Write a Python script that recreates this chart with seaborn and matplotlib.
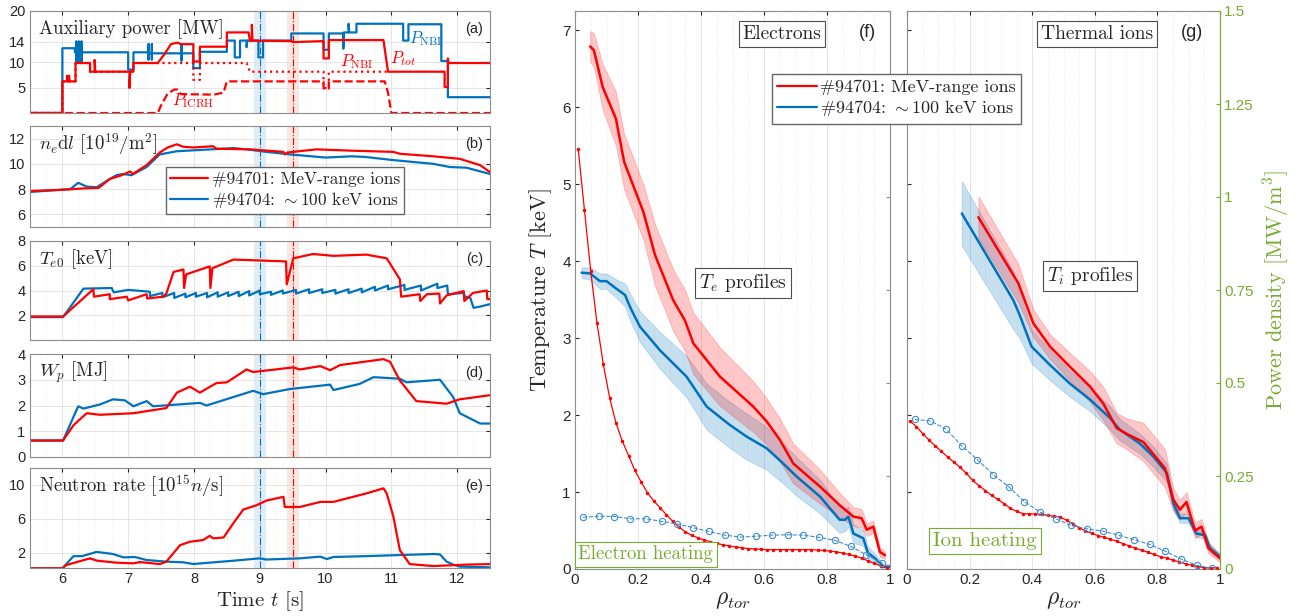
import matplotlib
matplotlib.use('Agg')
import matplotlib.pyplot as plt
from matplotlib.lines import Line2D
from matplotlib.ticker import MultipleLocator, FormatStrFormatter
import seaborn as sns

sns.set_style('white')
plt.rcParams['font.family'] = ['Liberation Sans', 'DejaVu Sans']
plt.rcParams['mathtext.fontset'] = 'cm'
SERIF = ['cmr10', 'DejaVu Serif']

RED = '#ff0000'
BLUE = '#0072bd'
LIGHTBLUE = '#3d8fd0'
GREEN = '#77ac30'

# ---------------- time traces (left column) ----------------
# (a) auxiliary power [MW]
pnbi_b_t = [5.5, 6.0, 6.0, 6.19, 6.19, 6.21, 6.21, 6.21, 6.21, 6.25, 6.25, 6.25, 6.25, 6.29, 6.29, 6.29, 6.29,
            7.0, 7.0, 7.08, 7.08, 7.31, 7.31, 7.31, 7.31, 7.36, 7.36, 7.36, 7.36, 7.81, 7.81, 7.81, 7.81,
            7.99, 7.99, 8.09, 8.09, 8.5, 8.5, 8.62, 8.62, 8.70, 8.70, 8.80, 8.80, 8.81, 8.98, 8.98, 9.05, 9.05,
            9.48, 9.48, 9.97, 9.97, 10.05, 10.05, 10.27, 10.27, 10.28, 10.35, 10.35, 10.36, 10.47, 10.47,
            11.18, 11.18, 11.26, 11.26, 11.76, 11.76, 11.86, 11.86, 12.5]
pnbi_b = [0, 0, 12.7, 12.7, 11.9, 11.9, 14.0, 10.1, 11.9, 11.9, 14.0, 10.1, 11.9, 11.9, 14.0, 10.1, 11.9,
          11.9, 8.5, 8.5, 11.9, 11.9, 13.5, 10.5, 11.7, 11.7, 13.5, 10.5, 11.7, 11.7, 13.2, 10.3, 11.7,
          11.7, 8.8, 8.8, 12.0, 12.0, 14.2, 14.2, 10.9, 10.9, 14.2, 14.2, 12.9, 14.2, 14.2, 10.9, 10.9, 14.2,
          14.2, 15.6, 15.6, 12.4, 12.4, 15.6, 15.6, 12.6, 15.8, 15.8, 17.5, 15.8, 15.8, 17.5,
          17.5, 14.2, 14.2, 17.4, 17.4, 10.2, 10.2, 3.1, 3.1]
ptot_r_t = [5.5, 6.0, 6.0, 6.07, 6.07, 6.08, 6.1, 6.1, 6.11, 6.2, 6.2, 6.42, 6.42, 6.49, 6.49, 6.5, 7.02, 7.02,
            7.03, 7.08, 7.08, 7.45, 7.55, 7.65, 7.75, 7.8, 7.99, 7.99, 8.09, 8.09, 8.5, 8.5, 8.83, 8.85, 8.88,
            8.88, 8.89, 9.48, 9.5, 9.97, 9.97, 10.05, 10.05, 10.88, 10.95, 11.81, 11.81, 11.86, 11.86, 11.87, 12.5]
ptot_r = [0, 0, 6.2, 6.2, 7.3, 6.2, 6.2, 7.3, 6.2, 6.2, 9.8, 9.8, 8.1, 8.1, 10.4, 8.1, 8.1, 4.9,
          8.1, 8.1, 9.8, 9.8, 11.5, 13.5, 13.8, 13.5, 13.5, 10.1, 10.1, 13.0, 13.0, 15.8, 15.8, 14.2, 14.2,
          17.3, 14.2, 14.1, 13.9, 14.1, 10.7, 10.7, 14.3, 14.3, 8.1, 8.1, 5.1, 5.1, 10.7, 9.8, 9.8]
pnbi_r_t = [5.5, 6.0, 6.0, 6.2, 6.2, 6.42, 6.42, 7.08, 7.08, 7.99, 7.99, 8.09, 8.09, 8.80, 8.85, 9.97, 9.97,
            10.05, 10.05, 10.95]
pnbi_r = [0, 0, 6.2, 6.2, 9.8, 9.8, 8.1, 8.1, 9.8, 9.8, 6.5, 6.5, 9.8, 9.8, 8.1, 8.1, 4.9, 4.9, 8.1, 8.1]
picrh_r_t = [5.5, 7.45, 7.5, 7.6, 7.7, 7.75, 7.8, 8.3, 8.45, 8.5, 9.97, 9.97, 10.05, 10.05, 10.9, 10.95, 11.0, 12.5]
picrh_r = [0, 0, 1.5, 3.8, 4.6, 4.6, 3.7, 3.6, 4.0, 6.2, 6.2, 4.8, 4.8, 6.2, 6.2, 4.0, 0, 0]

# (b) line integrated density [1e19 m^-2]
ne_r_t = [5.5, 6.0, 6.3, 6.55, 6.6, 6.72, 6.9, 7.03, 7.07, 7.28, 7.48, 7.6, 7.74, 7.84, 8.0, 8.29, 8.34,
          8.85, 9.36, 9.38, 9.42, 9.86, 10.37, 11.03, 11.13, 11.64, 12.04, 12.35, 12.5]
ne_r = [7.85, 7.95, 8.05, 8.1, 8.3, 8.8, 9.1, 9.4, 9.2, 9.9, 10.9, 11.3, 11.55, 11.35, 11.3, 11.4, 11.2,
        11.15, 10.95, 10.75, 10.9, 11.15, 11.05, 10.95, 10.8, 10.6, 10.4, 9.9, 9.35]
ne_b_t = [5.5, 6.12, 6.24, 6.37, 6.52, 6.72, 6.82, 6.92, 7.05, 7.28, 7.48, 7.74, 8.09, 8.6, 8.8, 9.1,
          9.46, 10.0, 10.4, 10.6, 11.03, 11.64, 11.89, 12.14, 12.5]
ne_b = [7.77, 8.0, 8.5, 8.2, 8.15, 8.8, 9.1, 9.2, 9.1, 9.75, 10.75, 11.0, 11.1, 11.25, 11.15, 10.95,
        10.75, 10.5, 10.6, 10.55, 10.3, 10.0, 9.75, 9.7, 9.2]

# (c) central electron temperature [keV]
te0_r_t = [5.5, 6.01, 6.47, 6.48, 6.72, 6.72, 6.98, 7.0, 7.28, 7.29, 7.53, 7.58, 7.69, 7.84, 7.85, 7.88,
           8.24, 8.25, 8.28, 8.6, 9.40, 9.41, 9.51, 9.81, 10.12, 10.62, 10.93, 11.13, 11.15, 11.43, 11.44,
           11.54, 11.73, 11.74, 11.84, 12.10, 12.11, 12.24, 12.45, 12.46, 12.5]
te0_r = [1.9, 1.9, 4.1, 3.5, 3.7, 3.3, 3.5, 3.2, 3.7, 3.35, 3.5, 3.75, 5.5, 5.7, 4.2, 5.3,
         5.95, 4.2, 5.8, 6.5, 6.35, 4.5, 6.6, 6.95, 6.8, 6.9, 6.6, 4.9, 3.5, 3.7, 3.15,
         3.7, 3.75, 2.95, 3.6, 3.95, 3.15, 3.8, 4.0, 3.3, 3.3]
te0_b_t = [5.5, 6.01, 6.32, 6.75, 6.78, 7.0, 7.33, 7.33, 7.52, 7.52, 7.70, 7.70, 7.87, 7.87, 8.03, 8.03,
           8.20, 8.20, 8.36, 8.36, 8.52, 8.52, 8.68, 8.68, 8.84, 8.84, 9.00, 9.00, 9.17, 9.17, 9.35, 9.35,
           9.55, 9.55, 9.75, 9.75, 9.95, 9.95, 10.15, 10.15, 10.35, 10.35, 10.55, 10.55, 10.75, 10.75,
           10.95, 10.95, 11.2, 11.2, 11.45, 11.45, 11.7, 11.7, 11.85, 11.86, 12.1, 12.12, 12.2, 12.25,
           12.35, 12.5]
te0_b = [1.85, 1.85, 4.15, 4.2, 3.85, 4.05, 3.9, 3.55, 3.8, 3.45, 3.8, 3.4, 3.75, 3.45, 3.8, 3.5,
         3.8, 3.45, 3.85, 3.5, 3.85, 3.55, 3.9, 3.55, 3.95, 3.6, 4.0, 3.7, 3.9, 3.65, 4.0, 3.75,
         4.05, 3.75, 4.1, 3.8, 4.1, 3.8, 4.05, 3.75, 4.1, 3.8, 4.15, 3.85, 4.3, 4.0,
         4.4, 4.1, 4.45, 4.05, 4.4, 4.0, 4.55, 4.2, 4.4, 3.7, 3.8, 3.5, 3.4, 2.6,
         2.7, 2.9]

# (d) stored energy [MJ]
wp_r_t = [5.5, 6.01, 6.17, 6.37, 6.57, 7.08, 7.58, 7.74, 7.94, 8.09, 8.34, 8.5, 8.8, 8.9, 9.51, 9.61,
          9.92, 10.07, 10.22, 10.88, 10.98, 11.13, 11.38, 11.84, 12.04, 12.5]
wp_r = [0.64, 0.64, 1.24, 1.7, 1.64, 1.7, 1.9, 2.5, 2.73, 2.5, 2.87, 2.9, 3.4, 3.3, 3.48, 3.4,
        3.53, 3.37, 3.57, 3.8, 3.7, 2.97, 2.17, 2.07, 2.24, 2.4]
wp_b_t = [5.5, 6.01, 6.24, 6.32, 6.57, 6.77, 6.95, 7.08, 7.28, 7.38, 8.09, 8.19, 8.9, 9.05, 9.46, 10.07,
          10.12, 10.52, 10.73, 11.13, 11.23, 11.74, 11.94, 12.04, 12.35, 12.5]
wp_b = [0.64, 0.64, 1.97, 1.88, 2.04, 2.24, 2.2, 1.97, 2.17, 1.97, 2.1, 2.0, 2.57, 2.44, 2.64, 2.81,
        2.6, 2.84, 3.1, 3.04, 2.9, 3.0, 2.33, 1.7, 1.3, 1.3]

# (e) neutron rate [1e15 n/s]
nr_r_t = [5.5, 6.0, 6.06, 6.42, 6.52, 6.82, 7.08, 7.18, 7.48, 7.58, 7.79, 7.94, 8.14, 8.24, 8.29, 8.45,
          8.6, 8.75, 8.95, 9.1, 9.36, 9.38, 9.61, 9.92, 10.12, 10.62, 10.88, 10.93, 11.03, 11.13, 11.28,
          11.64, 12.14, 12.5]
nr_r = [0.16, 0.16, 0.55, 1.34, 1.07, 0.83, 0.75, 0.9, 0.66, 0.95, 2.9, 3.3, 3.5, 4.0, 3.7, 3.8,
        5.5, 7.1, 7.6, 8.15, 8.6, 7.4, 7.4, 8.0, 8.0, 9.0, 9.6, 9.0, 6.3, 2.3, 0.66,
        0.43, 0.6, 0.66]
nr_b_t = [5.5, 6.0, 6.17, 6.3, 6.52, 6.77, 6.93, 7.1, 7.28, 7.58, 7.84, 7.99, 8.6, 9.0, 9.1, 9.61,
          9.92, 10.02, 10.12, 10.62, 11.13, 11.64, 11.74, 11.84, 11.94, 12.04, 12.5]
nr_b = [0.16, 0.16, 1.6, 1.6, 2.1, 1.85, 1.45, 1.5, 1.14, 0.95, 0.87, 0.67, 1.06, 1.34, 1.2, 1.34,
        1.54, 1.26, 1.5, 1.6, 1.73, 1.85, 1.8, 0.95, 0.6, 0.36, 0.28]

# ---------------- profiles (right column) ----------------
rho_te_r = [0.048, 0.06, 0.088, 0.13, 0.156, 0.217, 0.254, 0.312, 0.349, 0.376, 0.46, 0.566, 0.608,
            0.65, 0.693, 0.778, 0.84, 0.884, 0.91, 0.926, 0.947, 0.968, 0.984]
te_r = [6.79, 6.74, 6.26, 5.85, 5.29, 4.64, 4.08, 3.49, 3.23, 2.93, 2.50, 2.11, 1.92,
        1.68, 1.37, 1.07, 0.83, 0.68, 0.66, 0.51, 0.55, 0.22, 0.18]
te_r_err = [0.2, 0.22, 0.3, 0.35, 0.36, 0.36, 0.40, 0.40, 0.40, 0.40, 0.38, 0.33, 0.30,
            0.28, 0.26, 0.22, 0.16, 0.12, 0.12, 0.08, 0.08, 0.06, 0.05]
rho_te_b = [0.021, 0.048, 0.079, 0.1, 0.132, 0.159, 0.17, 0.18, 0.206, 0.27, 0.354, 0.418, 0.492, 0.545,
            0.608, 0.661, 0.704, 0.778, 0.84, 0.857, 0.868, 0.884, 0.915, 0.93, 0.952, 0.979, 1.0]
te_b = [3.85, 3.84, 3.74, 3.74, 3.64, 3.56, 3.45, 3.36, 3.15, 2.84, 2.50, 2.11, 1.87, 1.72,
        1.57, 1.37, 1.20, 0.94, 0.64, 0.64, 0.68, 0.46, 0.40, 0.21, 0.14, 0.03, 0.03]
te_b_err = [0.07, 0.08, 0.1, 0.1, 0.12, 0.15, 0.17, 0.18, 0.2, 0.24, 0.27, 0.3, 0.3, 0.3,
            0.28, 0.26, 0.25, 0.22, 0.17, 0.15, 0.13, 0.12, 0.1, 0.08, 0.06, 0.04, 0.03]
rho_ti_r = [0.228, 0.356, 0.388, 0.404, 0.457, 0.52, 0.585, 0.627, 0.67, 0.70, 0.755, 0.824, 0.851,
            0.872, 0.893, 0.92, 0.941, 0.963, 1.0]
ti_r = [4.57, 3.71, 3.36, 3.19, 2.89, 2.63, 2.37, 2.15, 1.83, 1.76, 1.65, 1.31, 0.90,
        0.77, 0.87, 0.50, 0.55, 0.27, 0.14]
ti_r_err = [0.27, 0.25, 0.2, 0.18, 0.16, 0.18, 0.2, 0.22, 0.2, 0.2, 0.25, 0.25, 0.15,
            0.13, 0.13, 0.1, 0.1, 0.07, 0.05]
rho_ti_b = [0.175, 0.34, 0.36, 0.398, 0.457, 0.52, 0.585, 0.649, 0.68, 0.744, 0.787, 0.83, 0.851,
            0.872, 0.899, 0.925, 0.952, 0.968, 1.0]
ti_b = [4.62, 3.49, 3.30, 2.89, 2.65, 2.41, 2.20, 1.96, 1.81, 1.63, 1.46, 1.25, 0.85,
        0.66, 0.66, 0.46, 0.44, 0.27, 0.16]
ti_b_err = [0.42, 0.38, 0.3, 0.22, 0.2, 0.17, 0.15, 0.15, 0.14, 0.13, 0.13, 0.12, 0.08,
            0.06, 0.06, 0.05, 0.05, 0.05, 0.04]

# heating power densities [MW/m^3]
rho_fine = [0.01, 0.03, 0.05, 0.07, 0.09, 0.11, 0.13, 0.15, 0.17, 0.19, 0.21, 0.23, 0.25, 0.27, 0.29,
            0.31, 0.33, 0.35, 0.37, 0.39, 0.41, 0.43, 0.45, 0.47, 0.49, 0.51, 0.53, 0.55, 0.57, 0.59,
            0.61, 0.63, 0.65, 0.67, 0.69, 0.71, 0.73, 0.75, 0.77, 0.79, 0.81, 0.83, 0.85, 0.87, 0.89,
            0.91, 0.93, 0.95, 0.97, 0.99]
pe_r = [1.13, 0.965, 0.80, 0.66, 0.55, 0.46, 0.393, 0.344, 0.305, 0.265, 0.234, 0.205, 0.183, 0.165,
        0.146, 0.128, 0.113, 0.100, 0.091, 0.084, 0.078, 0.073, 0.069, 0.065, 0.062, 0.059, 0.057,
        0.055, 0.054, 0.053, 0.052, 0.052, 0.052, 0.052, 0.052, 0.052, 0.052, 0.052, 0.051, 0.050,
        0.048, 0.046, 0.043, 0.039, 0.035, 0.029, 0.022, 0.015, 0.009, 0.004]
pi_r = [0.397, 0.383, 0.364, 0.347, 0.331, 0.316, 0.301, 0.287, 0.273, 0.257, 0.238, 0.224, 0.211,
        0.198, 0.187, 0.176, 0.163, 0.155, 0.149, 0.148, 0.148, 0.147, 0.144, 0.142, 0.139, 0.131,
        0.121, 0.111, 0.102, 0.096, 0.090, 0.085, 0.080, 0.075, 0.068, 0.062, 0.056, 0.050, 0.045,
        0.039, 0.033, 0.029, 0.024, 0.019, 0.014, 0.010, 0.006, 0.004, 0.002, 0.004]
rho_coarse = [0.025, 0.075, 0.125, 0.175, 0.225, 0.275, 0.325, 0.375, 0.425, 0.475, 0.525, 0.575,
              0.625, 0.675, 0.725, 0.775, 0.825, 0.875, 0.925, 0.975]
pe_b = [0.139, 0.142, 0.141, 0.135, 0.135, 0.128, 0.121, 0.111, 0.101, 0.091, 0.086, 0.088,
        0.091, 0.092, 0.091, 0.085, 0.077, 0.061, 0.038, 0.016]
pi_b = [0.402, 0.398, 0.376, 0.331, 0.294, 0.254, 0.221, 0.181, 0.153, 0.135, 0.117, 0.108,
        0.102, 0.091, 0.079, 0.066, 0.048, 0.027, 0.010, 0.002]

LABEL_R = '#94701: MeV-range ions'
LABEL_B = '#94704: $\\sim$100 keV ions'


def trace(ax, x, y, color, **kw):
    kw.setdefault('lw', 1.6)
    sns.lineplot(x=x, y=y, ax=ax, color=color, estimator=None, sort=False,
                 legend=False, **kw)


def style_axes(ax):
    for s in ax.spines.values():
        s.set_color('0.55')
        s.set_linewidth(0.8)
    ax.tick_params(direction='in', length=3, labelsize=10.5, colors='0.15',
                   top=True, right=True, pad=3)
    ax.tick_params(which='minor', length=0)
    ax.set_xlabel('')
    ax.set_ylabel('')


fig = plt.figure(figsize=(12.99, 6.16), dpi=100)
W, H = 1299, 616


def px_axes(x0, y0, x1, y1):
    return fig.add_axes([x0 / W, 1 - y1 / H, (x1 - x0) / W, (y1 - y0) / H])


# ---------------- left column ----------------
rows = [(11, 113), (126, 227), (241, 340), (354, 457), (468, 568)]
axs = [px_axes(29.5, r0, 490, r1) for r0, r1 in rows]

trace(axs[0], pnbi_b_t, pnbi_b, BLUE)
trace(axs[0], picrh_r_t, picrh_r, RED, linestyle='--')
trace(axs[0], pnbi_r_t, pnbi_r, RED, linestyle=':')
trace(axs[0], ptot_r_t, ptot_r, RED)
trace(axs[1], ne_b_t, ne_b, BLUE)
trace(axs[1], ne_r_t, ne_r, RED)
trace(axs[2], te0_b_t, te0_b, BLUE)
trace(axs[2], te0_r_t, te0_r, RED)
trace(axs[3], wp_b_t, wp_b, BLUE)
trace(axs[3], wp_r_t, wp_r, RED)
trace(axs[4], nr_b_t, nr_b, BLUE)
trace(axs[4], nr_r_t, nr_r, RED)

ylims = [(0, 20), (5, 13), (0, 8), (0, 4), (0.2, 12)]
yticks = [[5, 10, 14, 20], [6, 8, 10, 12], [2, 4, 6, 8], [0, 1, 2, 3, 4], [2, 6, 10]]
titles = ['Auxiliary power [MW]', '$n_e\\mathrm{d}l$ $[10^{19}/\\mathrm{m}^2]$',
          '$T_{e0}$ [keV]', '$W_p$ [MJ]', 'Neutron rate $[10^{15}n/\\mathrm{s}]$']
tags = ['(a)', '(b)', '(c)', '(d)', '(e)']
for i, ax in enumerate(axs):
    ax.axvspan(8.91, 9.09, color=BLUE, alpha=0.12, lw=0, zorder=0)
    ax.axvspan(9.41, 9.59, color='#e8603c', alpha=0.15, lw=0, zorder=0)
    ax.axvline(9.0, color=BLUE, lw=0.8, ls='-.', zorder=1)
    ax.axvline(9.5, color=RED, lw=0.8, ls='-.', zorder=1)
    ax.set_xlim(5.5, 12.5)
    ax.set_ylim(*ylims[i])
    ax.set_yticks(yticks[i])
    ax.set_xticks(range(6, 13))
    ax.xaxis.set_minor_locator(MultipleLocator(0.25))
    ax.grid(which='major', color='0.88', lw=0.6)
    ax.grid(which='minor', axis='x', color='0.92', lw=0.5, ls=':')
    ax.set_axisbelow(True)
    style_axes(ax)
    if i < 4:
        ax.tick_params(labelbottom=False)
    ax.text(0.02, 0.82, titles[i], transform=ax.transAxes, family=SERIF, fontsize=13.5,
            ha='left', va='center')
    ax.text(0.985, 0.82, tags[i], transform=ax.transAxes, fontsize=10.5, ha='right', va='center')

axs[0].text(11.53, 14.6, '$P_{\\mathrm{NBI}}$', color=BLUE, fontsize=12, ha='center', va='center')
axs[0].text(10.48, 10.0, '$P_{\\mathrm{NBI}}$', color=RED, fontsize=12, ha='center', va='center')
axs[0].text(11.18, 10.6, '$P_{tot}$', color=RED, fontsize=12, ha='center', va='center')
axs[0].text(7.99, 2.4, '$P_{\\mathrm{ICRH}}$', color=RED, fontsize=12, ha='center', va='center')

handles = [Line2D([], [], color=RED, lw=1.6), Line2D([], [], color=BLUE, lw=1.6)]
axs[1].legend(handles, [LABEL_R, LABEL_B], loc='center', bbox_to_anchor=(0.555, 0.36),
              prop={'family': SERIF, 'size': 12.5}, fancybox=False, framealpha=1,
              edgecolor='0.4', borderpad=0.25, labelspacing=0.15, handlelength=2.2,
              handletextpad=0.2)
axs[4].set_xlabel('Time $t$ [s]', family=SERIF, fontsize=15, labelpad=2)

# ---------------- right column ----------------
ax_f = px_axes(575, 11, 890, 569)
ax_g = px_axes(907, 11, 1220, 569)
axp_f = ax_f.twinx()
axp_g = ax_g.twinx()


def profile(ax, rho, t, err, color):
    lo = [a - b for a, b in zip(t, err)]
    hi = [a + b for a, b in zip(t, err)]
    ax.fill_between(rho, lo, hi, facecolor=color, alpha=0.22, edgecolor=color, lw=0.6)
    trace(ax, rho, t, color, lw=1.8)


profile(ax_f, rho_te_b, te_b, te_b_err, BLUE)
profile(ax_f, rho_te_r, te_r, te_r_err, RED)
profile(ax_g, rho_ti_b, ti_b, ti_b_err, BLUE)
profile(ax_g, rho_ti_r, ti_r, ti_r_err, RED)

for axp, pr, pb in [(axp_f, pe_r, pe_b), (axp_g, pi_r, pi_b)]:
    trace(axp, rho_fine, pr, RED, lw=0.9, marker='.', markersize=3.5, mec=RED, mfc=RED)
    trace(axp, rho_coarse, pb, LIGHTBLUE, lw=0.8, linestyle='--', marker='o', markersize=4.5,
          mfc='none', mec=LIGHTBLUE, mew=0.8)

for ax in (ax_f, ax_g):
    ax.set_xlim(0, 1)
    ax.set_ylim(0, 7.25)
    ax.set_xticks([0, 0.2, 0.4, 0.6, 0.8, 1])
    ax.xaxis.set_major_formatter(FormatStrFormatter('%g'))
    ax.xaxis.set_minor_locator(MultipleLocator(0.05))
    ax.set_yticks(range(0, 8))
    ax.grid(which='major', axis='x', color='0.88', lw=0.6)
    ax.grid(which='minor', axis='x', color='0.9', lw=0.5, ls=':')
    ax.set_axisbelow(True)
    style_axes(ax)
    ax.tick_params(labelsize=11, right=False)
    ax.set_xlabel('$\\rho_{tor}$', fontsize=17, labelpad=1)

ax_g.tick_params(labelleft=False)
ax_f.set_ylabel('Temperature $T$ [keV]', family=SERIF, fontsize=16, labelpad=6)

for axp in (axp_f, axp_g):
    axp.set_ylim(0, 1.5)
    axp.set_yticks([0, 0.25, 0.5, 0.75, 1, 1.25, 1.5])
    axp.yaxis.set_major_formatter(FormatStrFormatter('%g'))
    axp.set_xlabel('')
    axp.set_ylabel('')
    for s in axp.spines.values():
        s.set_visible(False)
axp_f.tick_params(direction='in', length=3, labelright=False, colors='0.55')
axp_g.spines['right'].set_visible(True)
axp_g.spines['right'].set_color(GREEN)
axp_g.tick_params(direction='in', length=3, labelsize=11, colors=GREEN, pad=3)
axp_g.set_ylabel('Power density [MW/m$^3$]', family=SERIF, fontsize=16, color=GREEN, labelpad=6)

box = dict(boxstyle='square,pad=0.2', fc='white', ec='0.3', lw=0.8)
gbox = dict(boxstyle='square,pad=0.2', fc='white', ec=GREEN, lw=0.8)
axp_f.text(0.657, 0.959, 'Electrons', transform=ax_f.transAxes, family=SERIF, fontsize=14,
           ha='center', va='center', bbox=box)
axp_f.text(0.927, 0.962, '(f)', transform=ax_f.transAxes, fontsize=13, ha='center', va='center')
axp_f.text(0.533, 0.513, '$T_e$ profiles', transform=ax_f.transAxes, family=SERIF, fontsize=14,
           ha='center', va='center', bbox=box)
axp_f.text(0.225, 0.026, 'Electron heating', transform=ax_f.transAxes, family=SERIF, fontsize=13.5,
           color=GREEN, ha='center', va='center', bbox=gbox)
axp_g.text(0.607, 0.959, 'Thermal ions', transform=ax_g.transAxes, family=SERIF, fontsize=14,
           ha='center', va='center', bbox=box)
axp_g.text(0.91, 0.962, '(g)', transform=ax_g.transAxes, fontsize=13, ha='center', va='center')
axp_g.text(0.585, 0.525, '$T_i$ profiles', transform=ax_g.transAxes, family=SERIF, fontsize=14,
           ha='center', va='center', bbox=box)
axp_g.text(0.249, 0.05, 'Ion heating', transform=ax_g.transAxes, family=SERIF, fontsize=15,
           color=GREEN, ha='center', va='center', bbox=gbox)

fig.legend(handles, [LABEL_R, LABEL_B], loc='center', bbox_to_anchor=(896.5 / W, 1 - 99 / H),
           prop={'family': SERIF, 'size': 13}, fancybox=False, framealpha=1, edgecolor='0.4',
           borderpad=0.3, labelspacing=0.15, handlelength=2.2, handletextpad=0.2)

fig.savefig('out.png', dpi=100)
